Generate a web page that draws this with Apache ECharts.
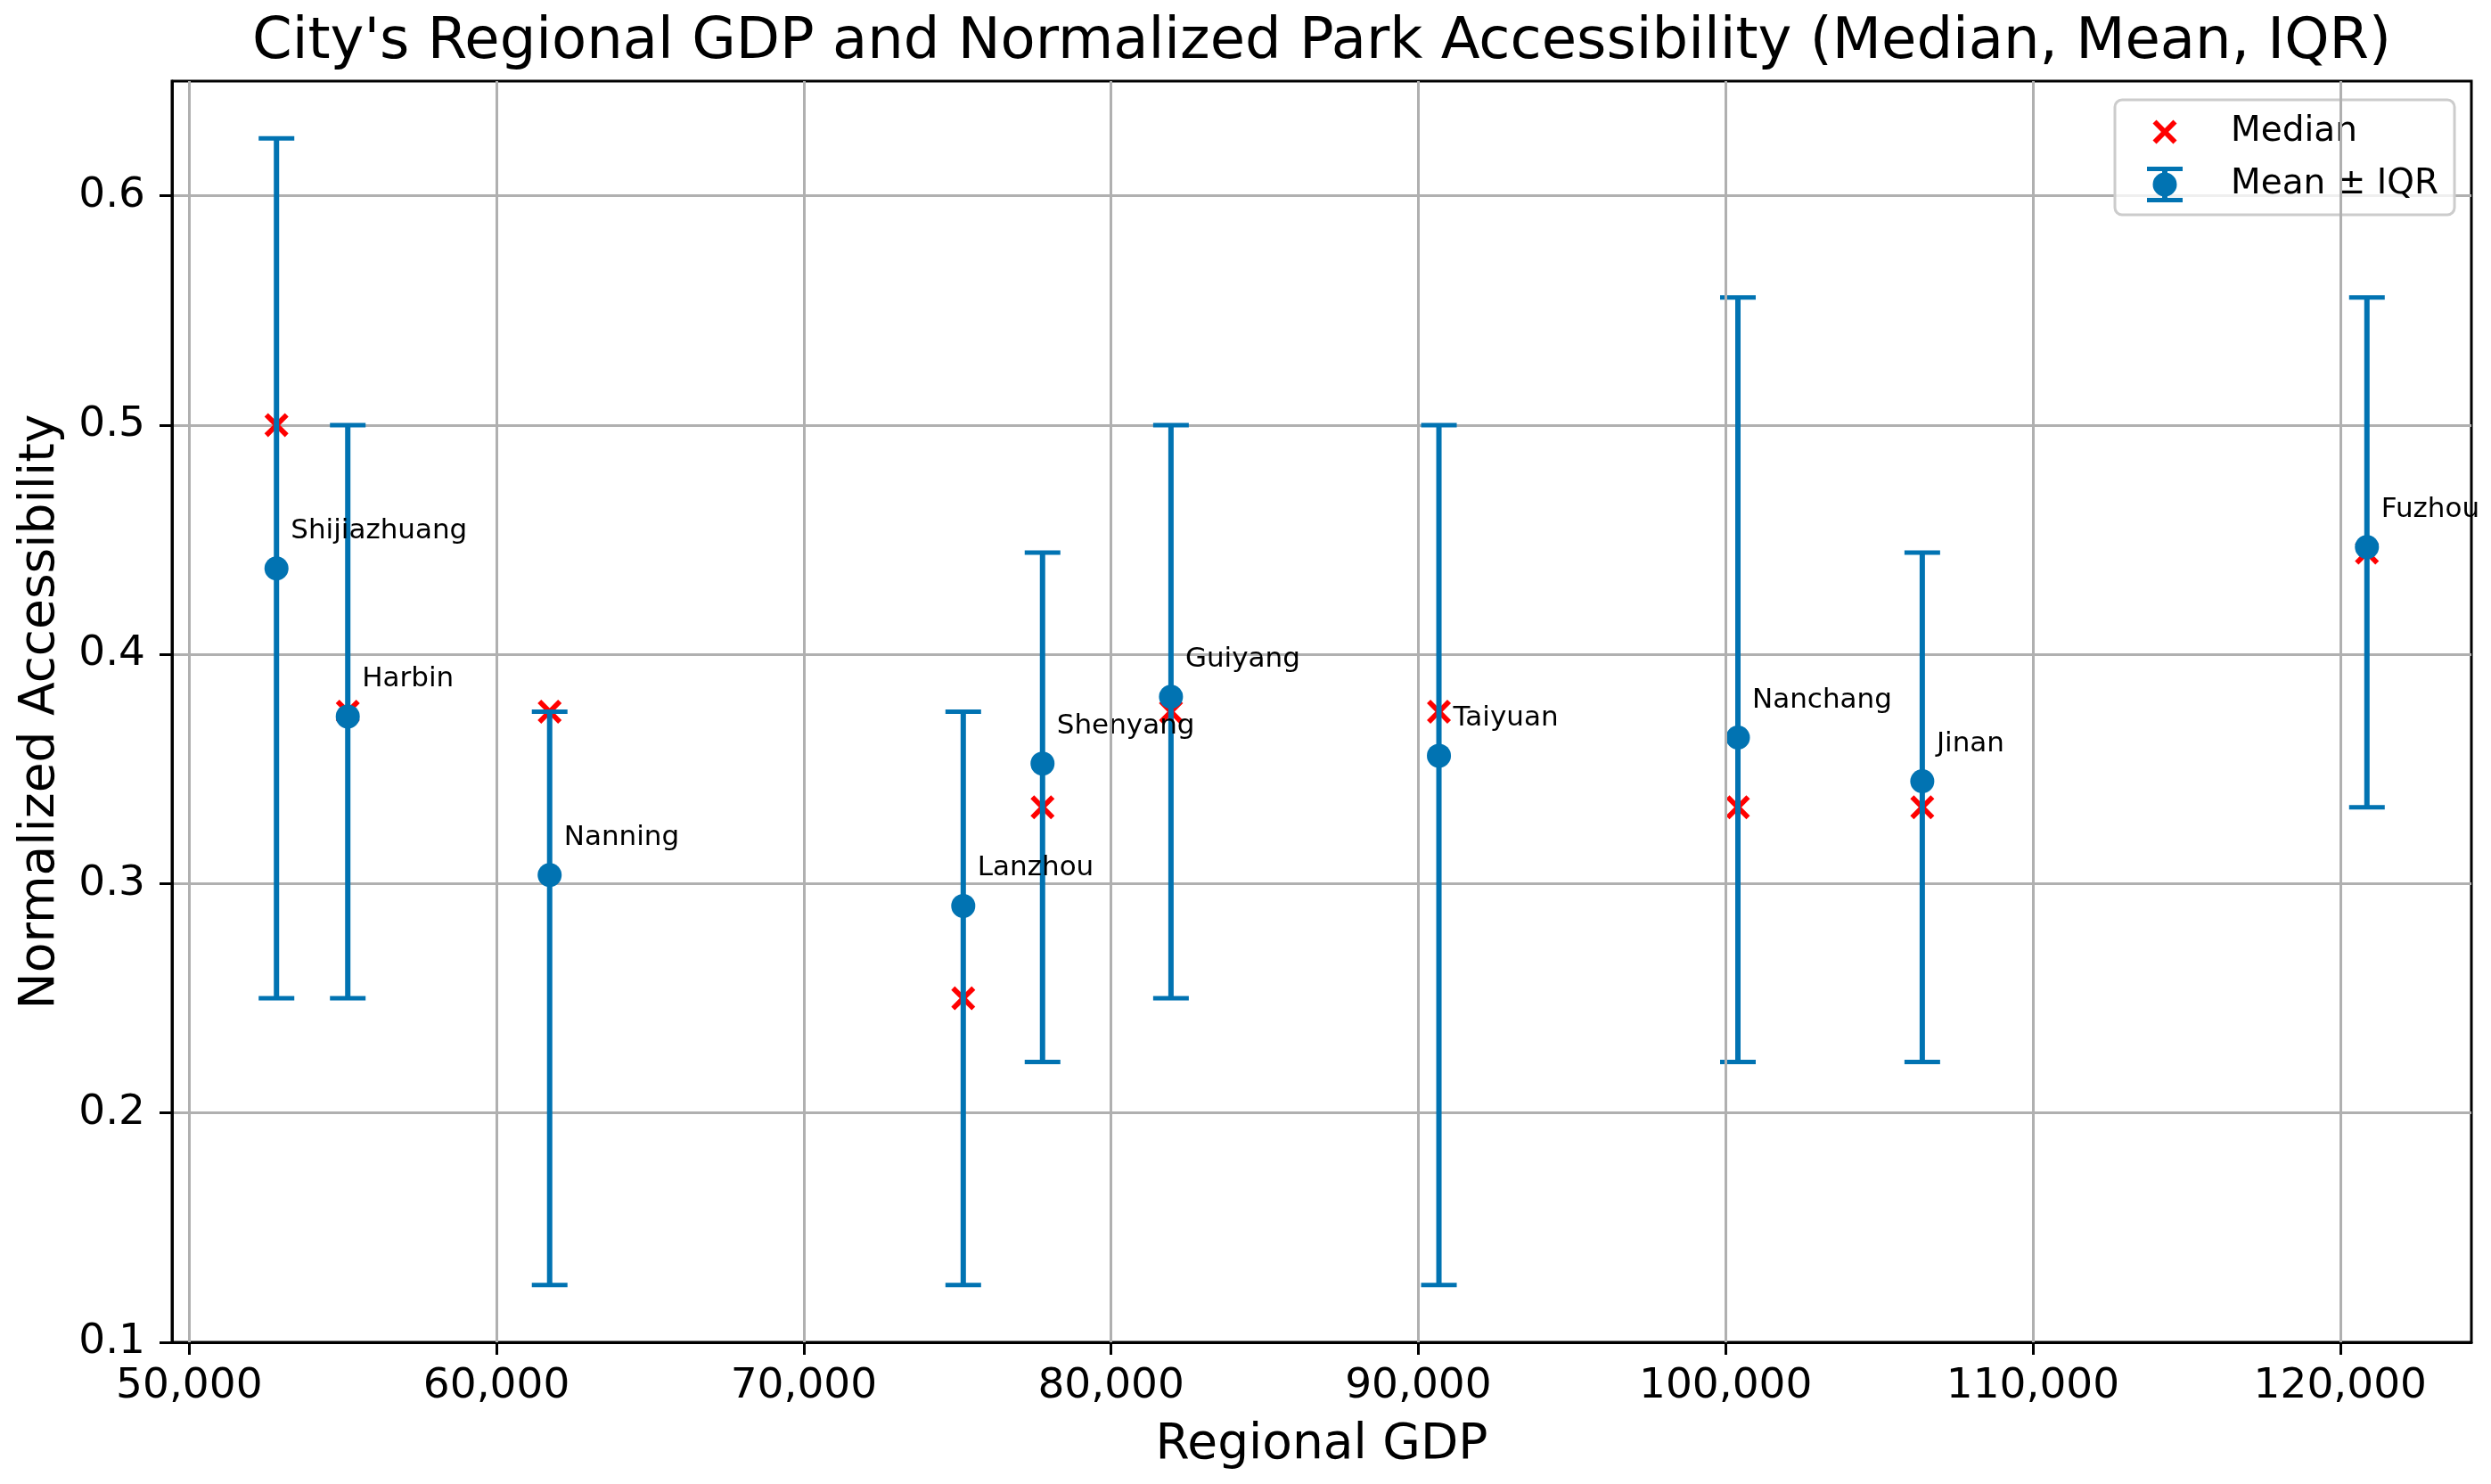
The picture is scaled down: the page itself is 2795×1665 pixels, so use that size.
<!DOCTYPE html>
<html>
<head>
<meta charset="utf-8">
<script src="https://cdn.jsdelivr.net/npm/echarts@6/dist/echarts.min.js"></script>
<style>
  html, body { margin: 0; padding: 0; background: #fff; }
  #chart { width: 2795px; height: 1665px; }
</style>
</head>
<body>
<div id="chart"></div>
<script>
// city data
var cities = ['Shijiazhuang', 'Harbin', 'Nanning', 'Lanzhou', 'Shenyang', 'Guiyang', 'Taiyuan', 'Nanchang', 'Jinan', 'Fuzhou'];
var gdp = [52840, 55160, 61730, 75190, 77770, 81950, 90670, 100400, 106400, 120870];
var meanVals = [0.4375, 0.3729, 0.3038, 0.2903, 0.3524, 0.3815, 0.3558, 0.3637, 0.3447, 0.4468];
var medianVals = [0.5, 0.375, 0.375, 0.25, 0.3333, 0.375, 0.375, 0.3333, 0.3333, 0.4444];
var iqrLow = [0.25, 0.25, 0.125, 0.125, 0.2222, 0.25, 0.125, 0.2222, 0.2222, 0.3333];
var iqrHigh = [0.625, 0.5, 0.375, 0.375, 0.4444, 0.5, 0.5, 0.5556, 0.4444, 0.5556];

var xTicks = [50000, 60000, 70000, 80000, 90000, 100000, 110000, 120000];
var yTicks = [0.1, 0.2, 0.3, 0.4, 0.5, 0.6];

var blue = '#0173b2';
var font = 'DejaVu Sans';

var xMark = 'path://M0,1.5 L1.5,0 L5,3.5 L8.5,0 L10,1.5 L6.5,5 L10,8.5 L8.5,10 L5,6.5 L1.5,10 L0,8.5 L3.5,5 Z';
var xMarkLegend = 'path://M-2.4,-2.4 M12.4,12.4 M0,1.5 L1.5,0 L5,3.5 L8.5,0 L10,1.5 L6.5,5 L10,8.5 L8.5,10 L5,6.5 L1.5,10 L0,8.5 L3.5,5 Z';
var errLegend = 'path://M0,0 L40,0 L40,5 L0,5 Z M17,5 L23,5 L23,35 L17,35 Z M0,35 L40,35 L40,40 L0,40 Z M6.5,20 A13.5,13.5 0 1 1 33.5,20 A13.5,13.5 0 1 1 6.5,20 Z';

var medianData = gdp.map(function (g, i) { return [g, medianVals[i]]; });
var meanData = gdp.map(function (g, i) { return { name: cities[i], value: [g, meanVals[i]] }; });
var errData = gdp.map(function (g, i) { return [g, iqrLow[i], iqrHigh[i]]; });

function renderErr(params, api) {
  var lo = api.coord([api.value(0), api.value(1)]);
  var hi = api.coord([api.value(0), api.value(2)]);
  var cw = 20;
  return {
    type: 'group',
    children: [
      { type: 'line', shape: { x1: lo[0], y1: lo[1], x2: hi[0], y2: hi[1] }, style: { stroke: blue, lineWidth: 6 } },
      { type: 'line', shape: { x1: hi[0] - cw, y1: hi[1], x2: hi[0] + cw, y2: hi[1] }, style: { stroke: blue, lineWidth: 5 } },
      { type: 'line', shape: { x1: lo[0] - cw, y1: lo[1], x2: lo[0] + cw, y2: lo[1] }, style: { stroke: blue, lineWidth: 5 } }
    ]
  };
}

var chart = echarts.init(document.getElementById('chart'), null, { renderer: 'canvas', devicePixelRatio: 1 });

var option = {
  animation: false,
  textStyle: { fontFamily: font },
  graphic: [{
    type: 'text',
    x: 1483,
    y: 48,
    style: {
      text: "City's Regional GDP and Normalized Park Accessibility (Median, Mean, IQR)",
      font: '64px "DejaVu Sans"',
      fill: '#000',
      align: 'center',
      verticalAlign: 'middle'
    }
  }],
  legend: {
    orient: 'vertical',
    left: 2373,
    top: 112,
    padding: [16, 18, 14, 36],
    itemWidth: 40,
    itemHeight: 40,
    itemGap: 19,
    backgroundColor: 'rgba(255,255,255,0.8)',
    borderColor: '#cccccc',
    borderWidth: 3,
    borderRadius: 8,
    textStyle: { fontSize: 39, color: '#000', fontFamily: font, padding: [0, 0, 0, 49] },
    data: [
      { name: 'Median', icon: xMarkLegend },
      { name: 'Mean ± IQR', icon: errLegend }
    ]
  },
  grid: {
    left: 193, right: 22, top: 91, bottom: 159,
    show: true,
    borderColor: '#000',
    borderWidth: 3,
    backgroundColor: '#fff'
  },
  xAxis: {
    type: 'value',
    min: 49440,
    max: 124270,
    name: 'Regional GDP',
    nameLocation: 'middle',
    nameGap: 88,
    nameTextStyle: { fontSize: 55, color: '#000', fontFamily: font },
    axisLine: { lineStyle: { color: '#000', width: 3 } },
    axisTick: { show: true, length: 14, customValues: xTicks, lineStyle: { color: '#000', width: 3 } },
    axisLabel: {
      customValues: xTicks,
      fontSize: 47, color: '#000', margin: 26,
      formatter: function (v) { return v.toLocaleString('en-US'); }
    },
    splitLine: { show: false }
  },
  yAxis: {
    type: 'value',
    min: 0.1,
    max: 0.65,
    interval: 0.1,
    name: 'Normalized Accessibility',
    nameLocation: 'middle',
    nameGap: 120,
    nameTextStyle: { fontSize: 55, color: '#000', fontFamily: font },
    axisLine: { show: true, lineStyle: { color: '#000', width: 3 } },
    axisTick: { show: true, length: 14, customValues: yTicks, lineStyle: { color: '#000', width: 3 } },
    axisLabel: {
      customValues: yTicks,
      fontSize: 47, color: '#000', margin: 30,
      formatter: function (v) { return v.toFixed(1); }
    },
    splitLine: { show: true, lineStyle: { color: '#b0b0b0', width: 3 } }
  },
  series: [
    {
      name: 'grid',
      type: 'line',
      data: [],
      z: 0,
      silent: true,
      markLine: {
        silent: true,
        symbol: 'none',
        label: { show: false },
        lineStyle: { color: '#b0b0b0', width: 3, type: 'solid' },
        data: xTicks.map(function (v) { return { xAxis: v }; })
      }
    },
    {
      name: 'Median',
      type: 'scatter',
      data: medianData,
      symbol: xMark,
      symbolSize: 27,
      itemStyle: { color: '#ff0000', opacity: 1 },
      z: 2
    },
    {
      name: 'IQR',
      type: 'custom',
      renderItem: renderErr,
      data: errData,
      encode: { x: 0, y: [1, 2] },
      z: 3
    },
    {
      name: 'Mean ± IQR',
      type: 'scatter',
      data: meanData,
      symbol: 'circle',
      symbolSize: 27,
      itemStyle: { color: blue, opacity: 1 },
      z: 4,
      label: {
        show: true,
        position: 'inside',
        align: 'left',
        verticalAlign: 'middle',
        offset: [16, -42],
        formatter: '{b}',
        fontSize: 31,
        color: '#000',
        fontFamily: font
      }
    }
  ]
};

chart.setOption(option);
</script>
</body>
</html>
